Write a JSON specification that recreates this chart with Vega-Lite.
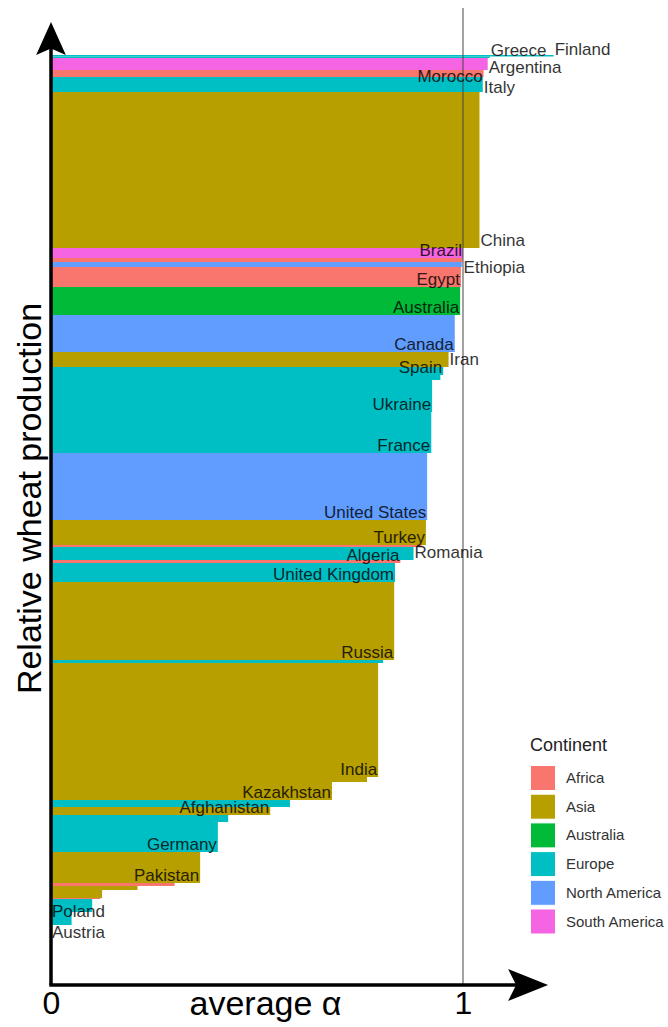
{
  "$schema": "https://vega.github.io/schema/vega-lite/v6.json",
  "width": 500,
  "height": 980,
  "autosize": "none",
  "padding": {"left": 51, "top": 5, "right": 117, "bottom": 42},
  "config": {"view": {"stroke": null}, "font": "Liberation Sans"},
  "layer": [
    {
      "data": {
        "values": [
          {"rank": 1, "country": "Finland", "continent": "Europe", "alpha": 1.22, "production": 1.5},
          {"rank": 2, "country": "Greece", "continent": "Europe", "alpha": 1.065, "production": 1.5},
          {"rank": 3, "country": "Argentina", "continent": "South America", "alpha": 1.06, "production": 12},
          {"rank": 4, "country": "Morocco", "continent": "Africa", "alpha": 1.05, "production": 7},
          {"rank": 5, "country": "Italy", "continent": "Europe", "alpha": 1.048, "production": 15},
          {"rank": 6, "country": "China", "continent": "Asia", "alpha": 1.04, "production": 156},
          {"rank": 7, "country": "Brazil", "continent": "South America", "alpha": 1.0, "production": 10},
          {"rank": 8, "country": "Ethiopia", "continent": "Africa", "alpha": 0.999, "production": 4},
          {"rank": 9, "country": "", "continent": "North America", "alpha": 0.997, "production": 5},
          {"rank": 10, "country": "Egypt", "continent": "Africa", "alpha": 0.995, "production": 20},
          {"rank": 11, "country": "Australia", "continent": "Australia", "alpha": 0.993, "production": 28},
          {"rank": 12, "country": "Canada", "continent": "North America", "alpha": 0.98, "production": 37},
          {"rank": 13, "country": "Iran", "continent": "Asia", "alpha": 0.965, "production": 15},
          {"rank": 14, "country": "Spain", "continent": "Europe", "alpha": 0.952, "production": 8},
          {"rank": 15, "country": "", "continent": "Europe", "alpha": 0.945, "production": 5},
          {"rank": 16, "country": "Ukraine", "continent": "Europe", "alpha": 0.925, "production": 32},
          {"rank": 17, "country": "France", "continent": "Europe", "alpha": 0.923, "production": 41},
          {"rank": 18, "country": "United States", "continent": "North America", "alpha": 0.913, "production": 67},
          {"rank": 19, "country": "Turkey", "continent": "Asia", "alpha": 0.91, "production": 25},
          {"rank": 20, "country": "", "continent": "Africa", "alpha": 0.9, "production": 2},
          {"rank": 21, "country": "Romania", "continent": "Europe", "alpha": 0.88, "production": 13},
          {"rank": 22, "country": "Algeria", "continent": "Africa", "alpha": 0.848, "production": 3},
          {"rank": 23, "country": "United Kingdom", "continent": "Europe", "alpha": 0.835, "production": 19},
          {"rank": 24, "country": "Russia", "continent": "Asia", "alpha": 0.833, "production": 78},
          {"rank": 25, "country": "", "continent": "Europe", "alpha": 0.806, "production": 3},
          {"rank": 26, "country": "India", "continent": "Asia", "alpha": 0.794, "production": 114},
          {"rank": 27, "country": "", "continent": "Asia", "alpha": 0.767, "production": 5},
          {"rank": 28, "country": "Kazakhstan", "continent": "Asia", "alpha": 0.682, "production": 18},
          {"rank": 29, "country": "", "continent": "Europe", "alpha": 0.58, "production": 7},
          {"rank": 30, "country": "Afghanistan", "continent": "Asia", "alpha": 0.532, "production": 8},
          {"rank": 31, "country": "", "continent": "Europe", "alpha": 0.43, "production": 7},
          {"rank": 32, "country": "Germany", "continent": "Europe", "alpha": 0.405, "production": 30},
          {"rank": 33, "country": "Pakistan", "continent": "Asia", "alpha": 0.362, "production": 31},
          {"rank": 34, "country": "", "continent": "Africa", "alpha": 0.3, "production": 3},
          {"rank": 35, "country": "", "continent": "Asia", "alpha": 0.21, "production": 4},
          {"rank": 36, "country": "", "continent": "Asia", "alpha": 0.124, "production": 8},
          {"rank": 37, "country": "", "continent": "Africa", "alpha": 0.12, "production": 1},
          {"rank": 38, "country": "Poland", "continent": "Europe", "alpha": 0.1, "production": 13},
          {"rank": 39, "country": "Austria", "continent": "Europe", "alpha": 0.05, "production": 13}
        ]
      },
      "transform": [
        {"stack": "production", "groupby": [], "sort": [{"field": "rank", "order": "ascending"}], "as": ["y0", "y1"]}
      ],
      "layer": [
        {
          "mark": {"type": "rect"},
          "encoding": {
            "x": {
              "field": "alpha", "type": "quantitative",
              "scale": {"domain": [0, 1.2136], "nice": false, "zero": false},
              "axis": {
                "title": "average α", "values": [0, 1], "format": "d", "ticks": false, "domain": false, "grid": false,
                "labelFontSize": 32, "labelColor": "#000", "labelPadding": 3, "labelFlush": false,
                "titleFontSize": 34, "titleFontWeight": "normal", "titleColor": "#000",
                "titleX": 214, "titleY": 29, "titleBaseline": "alphabetic", "titleAlign": "center"
              }
            },
            "x2": {"datum": 0},
            "y": {
              "field": "y0", "type": "quantitative",
              "scale": {"domain": [-50, 930], "reverse": true, "nice": false, "zero": false},
              "axis": {
                "title": "Relative wheat production", "labels": false, "ticks": false, "domain": false, "grid": false,
                "titleFontSize": 34, "titleFontWeight": "normal", "titleColor": "#000",
                "titleX": -21, "titleY": 493, "titleAngle": 270, "titleAlign": "center", "titleBaseline": "middle"
              }
            },
            "y2": {"field": "y1"},
            "color": {
              "field": "continent", "type": "nominal",
              "scale": {
                "domain": ["Africa", "Asia", "Australia", "Europe", "North America", "South America"],
                "range": ["#F8766D", "#B79F00", "#00BA38", "#00BFC4", "#619CFF", "#F564E3"]
              },
              "legend": {
                "title": "Continent", "orient": "none", "legendX": 479, "legendY": 732,
                "symbolType": "square", "symbolSize": 625, "symbolStrokeColor": "white", "symbolStrokeWidth": 1,
                "symbolOpacity": 1, "labelFontSize": 15, "labelColor": "#333", "labelOffset": 10,
                "titleFontSize": 18, "titleFontWeight": "normal", "titleColor": "#222", "titlePadding": 10,
                "rowPadding": -1.3, "padding": 0
              }
            }
          }
        },
        {
          "data": {"values": [{}]},
          "mark": {"type": "rule", "color": "#444", "strokeWidth": 1},
          "encoding": {
            "x": {"datum": 1, "type": "quantitative"},
            "y": {"datum": -47, "type": "quantitative"},
            "y2": {"datum": 930}
          }
        },
        {
          "transform": [{"filter": "indexof(['Brazil','Egypt','Australia','Canada','Spain','Ukraine','France','United States','Turkey','Algeria','United Kingdom','Russia','India','Kazakhstan','Afghanistan','Germany','Pakistan'], datum.country) >= 0"}],
          "mark": {"type": "text", "align": "right", "baseline": "alphabetic", "dx": -1, "dy": -2, "fontSize": 17, "color": "#000", "opacity": 0.8},
          "encoding": {
            "x": {"field": "alpha", "type": "quantitative"},
            "y": {"field": "y1", "type": "quantitative"},
            "text": {"field": "country"}
          }
        },
        {
          "transform": [{"filter": "datum.country == 'Morocco'"}],
          "mark": {"type": "text", "align": "right", "baseline": "alphabetic", "dx": -1, "dy": 5, "fontSize": 17, "color": "#000", "opacity": 0.8},
          "encoding": {
            "x": {"field": "alpha", "type": "quantitative"},
            "y": {"field": "y1", "type": "quantitative"},
            "text": {"field": "country"}
          }
        },
        {
          "transform": [{"filter": "indexof(['Greece','Finland','China','Iran','Romania'], datum.country) >= 0"}],
          "mark": {"type": "text", "align": "left", "baseline": "alphabetic", "dx": 1, "dy": -2, "fontSize": 17, "color": "#000", "opacity": 0.8},
          "encoding": {
            "x": {"field": "alpha", "type": "quantitative"},
            "y": {"field": "y1", "type": "quantitative"},
            "text": {"field": "country"}
          }
        },
        {
          "transform": [{"filter": "datum.country == 'Italy'"}],
          "mark": {"type": "text", "align": "left", "baseline": "alphabetic", "dx": 1, "dy": 1, "fontSize": 17, "color": "#000", "opacity": 0.8},
          "encoding": {
            "x": {"field": "alpha", "type": "quantitative"},
            "y": {"field": "y1", "type": "quantitative"},
            "text": {"field": "country"}
          }
        },
        {
          "transform": [{"filter": "datum.country == 'Argentina'"}],
          "mark": {"type": "text", "align": "left", "baseline": "alphabetic", "dx": 1, "dy": 3, "fontSize": 17, "color": "#000", "opacity": 0.8},
          "encoding": {
            "x": {"field": "alpha", "type": "quantitative"},
            "y": {"field": "y1", "type": "quantitative"},
            "text": {"field": "country"}
          }
        },
        {
          "transform": [{"filter": "datum.country == 'Ethiopia'"}],
          "mark": {"type": "text", "align": "left", "baseline": "alphabetic", "dx": 1, "dy": 11, "fontSize": 17, "color": "#000", "opacity": 0.8},
          "encoding": {
            "x": {"field": "alpha", "type": "quantitative"},
            "y": {"field": "y1", "type": "quantitative"},
            "text": {"field": "country"}
          }
        },
        {
          "transform": [{"filter": "datum.country == 'Poland'"}],
          "mark": {"type": "text", "align": "left", "baseline": "alphabetic", "dx": 1, "dy": 5, "fontSize": 17, "color": "#000", "opacity": 0.8},
          "encoding": {
            "x": {"datum": 0, "type": "quantitative"},
            "y": {"field": "y1", "type": "quantitative"},
            "text": {"field": "country"}
          }
        },
        {
          "transform": [{"filter": "datum.country == 'Austria'"}],
          "mark": {"type": "text", "align": "left", "baseline": "alphabetic", "dx": 1, "dy": 13, "fontSize": 17, "color": "#000", "opacity": 0.8},
          "encoding": {
            "x": {"datum": 0, "type": "quantitative"},
            "y": {"field": "y1", "type": "quantitative"},
            "text": {"field": "country"}
          }
        }
      ]
    },
    {
      "data": {"values": [{}]},
      "mark": {"type": "rule", "color": "#000", "strokeWidth": 3.5},
      "encoding": {
        "x": {"datum": 0, "type": "quantitative"},
        "y": {"datum": 930, "type": "quantitative"},
        "y2": {"datum": -16}
      }
    },
    {
      "data": {"values": [{}]},
      "mark": {"type": "rule", "color": "#000", "strokeWidth": 3.5},
      "encoding": {
        "y": {"datum": 930, "type": "quantitative"},
        "x": {"datum": -0.004, "type": "quantitative"},
        "x2": {"datum": 1.15}
      }
    },
    {
      "data": {"values": [{}]},
      "mark": {"type": "point", "filled": true, "color": "#000", "opacity": 1, "size": 1089, "shape": "M0,-1L0.9,1L0,0.6L-0.9,1Z"},
      "encoding": {
        "x": {"datum": 0, "type": "quantitative"},
        "y": {"datum": -16.5, "type": "quantitative"}
      }
    },
    {
      "data": {"values": [{}]},
      "mark": {"type": "point", "filled": true, "color": "#000", "opacity": 1, "size": 1600, "shape": "M1,0L-1,-0.8L-0.6,0L-1,0.8Z"},
      "encoding": {
        "x": {"datum": 1.158, "type": "quantitative"},
        "y": {"datum": 930, "type": "quantitative"}
      }
    }
  ]
}
